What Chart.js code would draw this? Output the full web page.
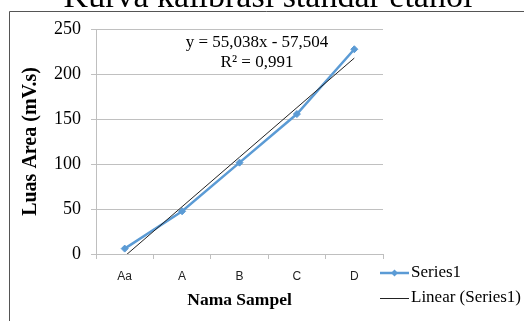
<!DOCTYPE html>
<html>
<head>
<meta charset="utf-8">
<script src="https://cdn.jsdelivr.net/npm/chart.js@4"></script>
<style>
  html, body { margin: 0; padding: 0; background: #fff; }
  #wrap { width: 524px; height: 321px; }
</style>
</head>
<body>
<div id="wrap"><canvas id="kurva" width="524" height="321"></canvas></div>
<script>
// Data
const sampleNames = ['Aa', 'A', 'B', 'C', 'D'];
const luasArea = [6, 47.5, 101.5, 155.5, 227.5];
// Excel linear trendline y = 55,038x - 57,504 at x = 1..5
const trendValues = [-2.47, 52.57, 107.61, 162.65, 217.69];
const yTicks = [0, 50, 100, 150, 200, 250];

const chartTitle = 'Kurva kalibrasi standar etanol';
const eqLines = ['y = 55,038x - 57,504', 'R\u00B2 = 0,991'];
const legendNames = ['Series1', 'Linear (Series1)'];

const blue = '#5B9BD5';
const serif = '"Liberation Serif", "Times New Roman", serif';

// frame, cut-off title, equation and legend (drawn like the Excel export)
const extras = {
    id: 'extras',
    beforeDraw(chart) {
        const c = chart.ctx;
        c.save();
        c.fillStyle = '#fff';
        c.fillRect(0, 0, chart.width, chart.height);
        c.restore();
    },
    afterDraw(chart) {
        const c = chart.ctx;
        c.save();
        // outer frame
        c.strokeStyle = '#555';
        c.lineWidth = 1;
        c.beginPath();
        c.moveTo(9.5, chart.height);
        c.lineTo(9.5, 11.5);
        c.lineTo(chart.width, 11.5);
        c.stroke();

        // title, mostly above the picture
        c.fillStyle = '#000';
        c.font = '34px ' + serif;
        c.textAlign = 'center';
        c.textBaseline = 'alphabetic';
        c.fillText(chartTitle, 268, 7);

        // trendline equation
        c.font = '17px ' + serif;
        c.textBaseline = 'middle';
        c.fillText(eqLines[0], 257, 43);
        c.fillText(eqLines[1], 257, 63);

        // legend
        const lx = 380, lw = 29;
        const rows = [273, 298];
        c.textAlign = 'left';
        // Series1 sample
        c.strokeStyle = blue;
        c.lineWidth = 2.5;
        c.beginPath();
        c.moveTo(lx, rows[0]);
        c.lineTo(lx + lw, rows[0]);
        c.stroke();
        c.fillStyle = blue;
        c.beginPath();
        c.moveTo(lx + lw / 2, rows[0] - 3.5);
        c.lineTo(lx + lw / 2 + 3.5, rows[0]);
        c.lineTo(lx + lw / 2, rows[0] + 3.5);
        c.lineTo(lx + lw / 2 - 3.5, rows[0]);
        c.closePath();
        c.fill();
        // Linear sample
        c.strokeStyle = '#222';
        c.lineWidth = 1;
        c.beginPath();
        c.moveTo(lx, rows[1] + 0.5);
        c.lineTo(lx + lw, rows[1] + 0.5);
        c.stroke();
        c.fillStyle = '#000';
        c.fillText(legendNames[0], lx + lw + 2, rows[0]);
        c.fillText(legendNames[1], lx + lw + 2, rows[1]);
        c.restore();
    }
};

new Chart(document.getElementById('kurva'), {
    type: 'line',
    data: {
        labels: sampleNames,
        datasets: [
            {
                label: legendNames[1],
                data: trendValues,
                borderColor: '#222',
                borderWidth: 1,
                pointRadius: 0,
                fill: false,
                tension: 0
            },
            {
                label: legendNames[0],
                data: luasArea,
                borderColor: blue,
                backgroundColor: blue,
                borderWidth: 2.5,
                pointStyle: 'rectRot',
                pointRadius: 3.5,
                pointBorderWidth: 1,
                fill: false,
                tension: 0
            }
        ]
    },
    options: {
        responsive: false,
        animation: false,
        layout: { padding: { left: 15, right: 141, top: 29, bottom: 6 } },
        plugins: {
            legend: { display: false },
            title: { display: false },
            tooltip: { enabled: false }
        },
        scales: {
            x: {
                offset: true,
                grid: {
                    offset: true,
                    drawOnChartArea: false,
                    drawTicks: true,
                    tickLength: 5,
                    color: '#bfbfbf'
                },
                border: { color: '#bfbfbf' },
                ticks: {
                    color: '#222',
                    padding: 10,
                    font: { family: '"Liberation Sans", Arial, sans-serif', size: 12 }
                },
                title: {
                    display: true,
                    text: 'Nama Sampel',
                    color: '#000',
                    font: { family: serif, size: 17.5, weight: 'bold' }
                },
                afterFit(scale) { scale.height = 61; }
            },
            y: {
                min: yTicks[0],
                max: yTicks[yTicks.length - 1],
                afterBuildTicks(scale) { scale.ticks = yTicks.map(v => ({ value: v })); },
                grid: { color: '#c0c0c0', tickLength: 5 },
                border: { color: '#bfbfbf' },
                ticks: {
                    color: '#000',
                    padding: 10,
                    font: { family: serif, size: 18 }
                },
                title: {
                    display: true,
                    text: 'Luas Area (mV.s)',
                    color: '#000',
                    font: { family: serif, size: 20, weight: 'bold' }
                },
                afterFit(scale) { scale.width = 81; }
            }
        }
    },
    plugins: [extras]
});
</script>
</body>
</html>
